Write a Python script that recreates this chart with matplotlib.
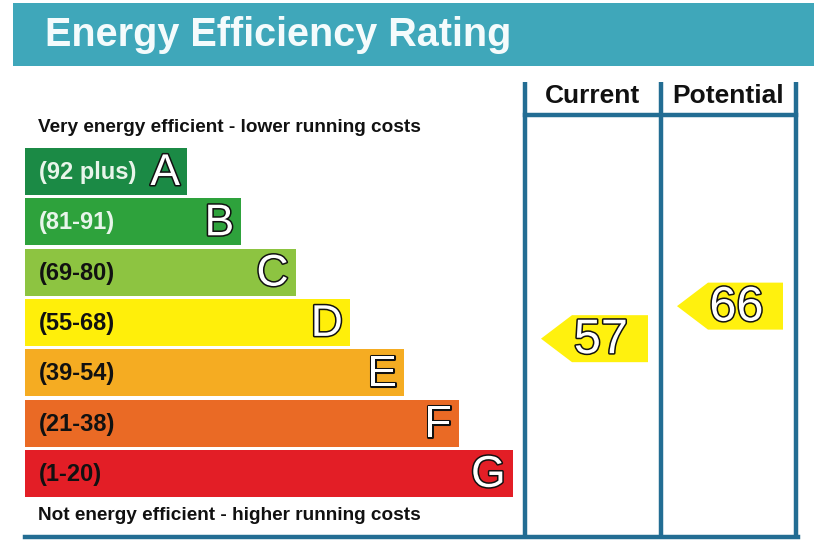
import matplotlib
matplotlib.use("Agg")
import matplotlib.pyplot as plt
import matplotlib.patheffects as pe
from matplotlib.patches import Polygon, Rectangle

# --- DATA ---
bands = ["A", "B", "C", "D", "E", "F", "G"]
ranges = ["(92 plus)", "(81-91)", "(69-80)", "(55-68)", "(39-54)", "(21-38)", "(1-20)"]
band_lo = [92, 81, 69, 55, 39, 21, 1]
band_hi = [100, 91, 80, 68, 54, 38, 20]
band_colors = ["#1b8a45", "#2ea23c", "#8dc441", "#ffef0a", "#f5ac22", "#ea6a25", "#e31e26"]
label_colors = ["#e8f5ea", "#e8f5ea", "#111111", "#111111", "#111111", "#111111", "#111111"]
columns = ["Current", "Potential"]
ratings = [57, 66]

# --- LAYOUT (pixels) ---
W, H = 814, 542
BAR_LEFT = 25
BAR_TOP = 148
BAR_STEP = 50.3
BAR_H = 47
WIDTH0 = 162
WIDTH_STEP = 54.3
COL_X = [525, 661, 796]
FRAME = "#236d93"

fig = plt.figure(figsize=(W / 100, H / 100), dpi=100)
ax = fig.add_axes([0, 0, 1, 1])
ax.set_xlim(0, W)
ax.set_ylim(H, 0)
ax.axis("off")

font = ["Liberation Sans", "DejaVu Sans"]

# title banner
ax.add_patch(Rectangle((13, 3), W - 13, 63, color="#3fa7ba", lw=0))
ax.text(45, 35, "Energy Efficiency Rating", color="#f4fbfc", fontsize=28.5,
        fontweight="bold", family=font, va="center", ha="left")

# bars
centers = [BAR_TOP + BAR_H / 2 + i * BAR_STEP for i in range(len(bands))]
widths = [WIDTH0 + i * WIDTH_STEP for i in range(len(bands))]
ax.barh(centers, widths, left=BAR_LEFT, height=BAR_H, color=band_colors, lw=0)

outline = [pe.withStroke(linewidth=2.2, foreground="#111111")]
for c, w, r, b, lc in zip(centers, widths, ranges, bands, label_colors):
    ax.text(BAR_LEFT + 14, c + 1, r, color=lc, fontsize=17, fontweight="bold",
            family=font, va="center", ha="left")
    ax.text(BAR_LEFT + w - 7, c + 2, b, color="white", fontsize=32,
            family=font, va="center", ha="right", path_effects=outline)

ax.text(38, 127, "Very energy efficient - lower running costs", fontsize=13.7,
        fontweight="bold", family=font, color="#111111", va="center")
ax.text(38, 515, "Not energy efficient - higher running costs", fontsize=13.7,
        fontweight="bold", family=font, color="#111111", va="center")

# frame
for x in COL_X:
    ax.plot([x, x], [82, 537], color=FRAME, lw=3.2, solid_capstyle="butt")
ax.plot([COL_X[0], COL_X[2]], [115, 115], color=FRAME, lw=3.2)
ax.plot([BAR_LEFT, COL_X[2] + 1.5], [537, 537], color=FRAME, lw=3.2)

for i, name in enumerate(columns):
    ax.text((COL_X[i] + COL_X[i + 1]) / 2, 96, name, fontsize=19, fontweight="bold",
            family=font, color="#111111", ha="center", va="center")


def rating_y(score):
    # position inside the band the score belongs to
    for i, (lo, hi) in enumerate(zip(band_lo, band_hi)):
        if lo <= score <= hi:
            top = BAR_TOP + i * BAR_STEP
            return top + (hi - score) / (hi - lo) * BAR_H
    return centers[-1]


# rating arrows
for i, score in enumerate(ratings):
    yc = rating_y(score)
    x0 = COL_X[i] + 16
    x1 = COL_X[i + 1] - 13
    pts = [(x0, yc), (x0 + 31, yc - BAR_H / 2), (x1, yc - BAR_H / 2),
           (x1, yc + BAR_H / 2), (x0 + 31, yc + BAR_H / 2)]
    ax.add_patch(Polygon(pts, closed=True, color="#fff10e", lw=0))
    ax.text((x0 + 31 + x1) / 2 - 9, yc + 2, str(score), color="white", fontsize=35,
            family=font, ha="center", va="center", path_effects=outline)

fig.savefig("out.png", dpi=100)
